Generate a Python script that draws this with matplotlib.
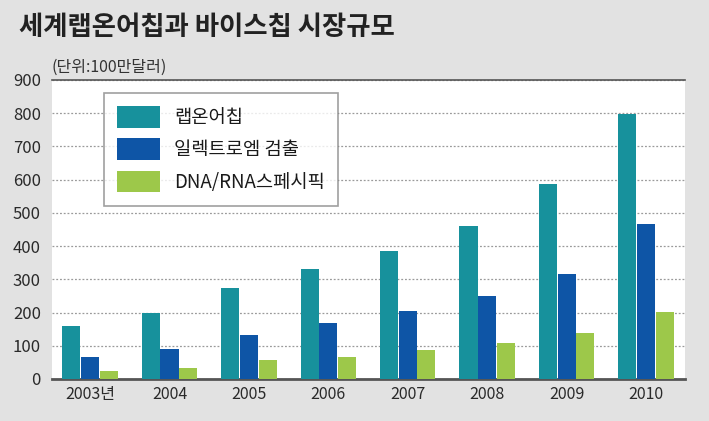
import matplotlib
matplotlib.use("Agg")
import matplotlib.pyplot as plt
import numpy as np

years = ["2003년", "2004", "2005", "2006", "2007", "2008", "2009", "2010"]
series_names = ["랩온어칩", "일렉트로엠 검출", "DNA/RNA스페시픽"]
lab_on_chip = [160, 200, 274, 331, 385, 461, 587, 798]
electro = [66, 90, 132, 169, 205, 250, 316, 467]
dna_rna = [24, 33, 57, 66, 87, 108, 139, 202]
yticks = [0, 100, 200, 300, 400, 500, 600, 700, 800, 900]
colors = ["#17919c", "#0e55a6", "#9dc84a"]

plt.rcParams['font.family'] = ['Noto Sans CJK KR', 'DejaVu Sans']

fig = plt.figure(figsize=(7.09, 4.21), dpi=100)
fig.patch.set_facecolor("#e2e2e2")
ax = fig.add_axes([0.0733, 0.0998, 0.8927, 0.7102])
ax.set_facecolor("white")

x = np.arange(len(years))
w = 0.235
for i, (vals, name) in enumerate(zip([lab_on_chip, electro, dna_rna], series_names)):
    ax.bar(x + (i - 1) * w, vals, width=w * 0.97, color=colors[i], label=name, zorder=3)

ax.set_xlim(-0.48, 7.49)
ax.set_ylim(0, 900)
ax.set_yticks(yticks)
ax.set_xticks(x)
ax.set_xticklabels(years, fontsize=11.5, color="#2a2a2a")
ax.set_yticklabels([str(v) for v in yticks], fontsize=12, color="#2a2a2a")
ax.tick_params(axis="y", length=0, pad=8)
ax.tick_params(axis="x", length=0, pad=5)
ax.grid(axis="y", linestyle=(0, (1.5, 1.5)), color="#9a9a9a", linewidth=0.9, zorder=1)
for s in ["left", "right"]:
    ax.spines[s].set_visible(False)
ax.spines["bottom"].set_color("#555555")
ax.spines["bottom"].set_linewidth(2)
ax.spines["top"].set_color("#555555")
ax.spines["top"].set_linewidth(1.2)

leg = ax.legend(loc="upper left", bbox_to_anchor=(0.082, 0.957), borderaxespad=0,
                fontsize=13.5, frameon=True, fancybox=False, edgecolor="#888888",
                handlelength=2.3, handleheight=1.4, labelspacing=0.55,
                borderpad=0.7, handletextpad=0.75)
leg.get_frame().set_linewidth(1.2)
for t in leg.get_texts():
    t.set_color("#1a1a1a")

fig.text(0.027, 0.935, "세계랩온어칩과 바이스칩 시장규모", fontsize=19, fontweight="bold",
         color="#222222", ha="left", va="center")
fig.text(0.073, 0.84, "(단위:100만달러)", fontsize=11.5, color="#333333", ha="left", va="center")

fig.savefig("out.png", dpi=100, facecolor=fig.get_facecolor())
